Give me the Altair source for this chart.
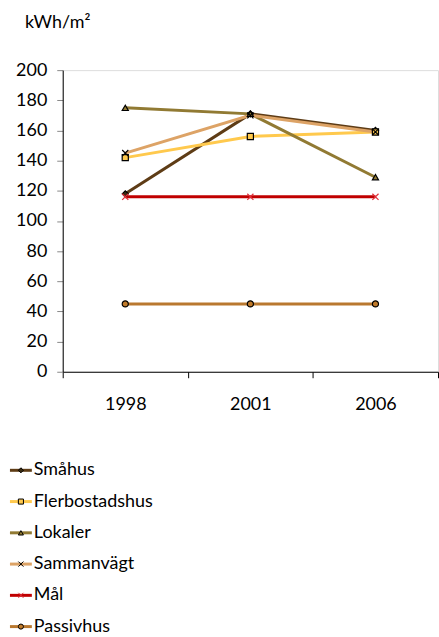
import altair as alt
import pandas as pd

# Energy use per building type, kWh/m2
years = ["1998", "2001", "2006"]
series = ["Småhus", "Flerbostadshus", "Lokaler", "Sammanvägt", "Mål", "Passivhus"]
smahus = [118, 171, 160]
flerbostadshus = [142, 156, 159]
lokaler = [175, 171, 129]
sammanvagt = [145, 170, 159]
mal = [116, 116, 116]
passivhus = [45, 45, 45]

line_colors = ["#5E3C16", "#FFC94D", "#917A33", "#DDA366", "#C00000", "#B9782F"]
marker_fills = ["#3A2A10", "#FFC94D", "#917A33", "#000000", "#C00000", "#C07A2A"]
marker_strokes = ["#000000", "#000000", "#000000", "#000000", "#E0303A", "#000000"]
xmark = "M-1,-1L1,1M-1,1L1,-1"
marker_shapes = ["diamond", "square", "triangle-up", xmark, xmark, "circle"]

values = [smahus, flerbostadshus, lokaler, sammanvagt, mal, passivhus]
rows = []
for s, vals in zip(series, values):
    for y, v in zip(years, vals):
        rows.append({"serie": s, "år": y, "värde": v})
df = pd.DataFrame(rows)
legend_df = pd.DataFrame({"serie": series})

FONT = "Lato"
FS = 18

color = alt.Color("serie:N", scale=alt.Scale(domain=series, range=line_colors), legend=None)
fill = alt.Fill("serie:N", scale=alt.Scale(domain=series, range=marker_fills), legend=None)
stroke = alt.Stroke("serie:N", scale=alt.Scale(domain=series, range=marker_strokes), legend=None)
shape = alt.Shape("serie:N", scale=alt.Scale(domain=series, range=marker_shapes), legend=None)

x = alt.X(
    "år:O",
    sort=years,
    scale=alt.Scale(paddingInner=0, paddingOuter=0),
    axis=alt.Axis(
        title=None, labelAngle=0, tickBand="extent", tickSize=6,
        labelPadding=18, labelFontSize=FS, labelColor="#000000",
        domainColor="#000000", tickColor="#000000", labelFont=FONT,
    ),
)
y = alt.Y(
    "värde:Q",
    scale=alt.Scale(domain=[0, 200]),
    axis=alt.Axis(
        title=None, values=list(range(0, 201, 20)), grid=False, tickSize=6,
        labelPadding=10, labelFontSize=FS, labelColor="#000000", labelFont=FONT,
        domainColor="#000000", tickColor="#888888",
    ),
)

base = alt.Chart(df)
lines = base.mark_line(strokeWidth=3).encode(x=x, y=y, color=color, detail="serie:N", order=alt.Order("serie:N"))
points = base.mark_point(filled=True, size=38, strokeWidth=1.2, opacity=1).encode(
    x=x, y=y, fill=fill, stroke=stroke, shape=shape
)
unit = alt.Chart(pd.DataFrame({"t": ["kWh/m²"]})).mark_text(
    align="left", baseline="middle", fontSize=FS, font=FONT, color="#000000"
).encode(text="t:N", x=alt.value(-38), y=alt.value(-47))

main = alt.layer(lines, points, unit)

ly = alt.Y("serie:N", sort=series, axis=None,
           scale=alt.Scale(type="point", padding=0, domain=series, range=[402, 559]))
lbase = alt.Chart(legend_df)
lrule = lbase.mark_rule(strokeWidth=3).encode(
    y=ly, x=alt.value(-53), x2=alt.value(-31), color=color
)
lpoint = lbase.mark_point(filled=True, size=26, strokeWidth=1, opacity=1).encode(
    y=ly, x=alt.value(-42), fill=fill, stroke=stroke, shape=shape
)
ltext = lbase.mark_text(align="left", baseline="middle", fontSize=FS, font=FONT, color="#000000").encode(
    y=ly, x=alt.value(-29), text="serie:N"
)
legend = alt.layer(lrule, lpoint, ltext)

chart = (
    alt.layer(main, legend)
    .resolve_scale(y="independent")
    .properties(width=377, height=303, padding={"left": 8, "top": 13, "right": 0, "bottom": 0})
    .configure_view(stroke=None)
    .configure(font=FONT, background="white")
)

chart.save("out.html", embed_options={"renderer": "svg", "actions": False})
